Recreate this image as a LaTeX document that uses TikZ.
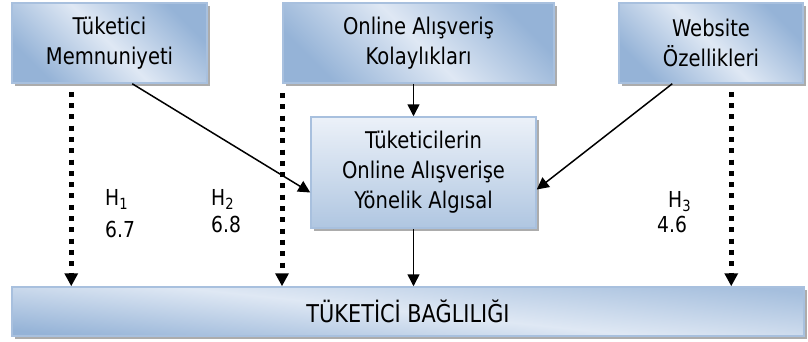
\documentclass[tikz,border=0pt]{standalone}
\usepackage{fontspec}
\setmainfont{DejaVu Sans}[FakeStretch=0.85]
\usetikzlibrary{positioning, calc, arrows.meta, shadows}
\definecolor{boxdark}{HTML}{95B3D7}
\definecolor{boxlight}{HTML}{DFE8F4}
\definecolor{boxedge}{HTML}{A8C0DE}

\begin{document}
\begin{tikzpicture}[x=1pt, y=-1pt,
    every node/.style={font=\fontsize{23}{30}\selectfont, align=center, inner sep=0pt},
    boxshadow/.style={drop shadow={shadow xshift=3pt, shadow yshift=-3pt, fill=gray!65, opacity=1}},
    topbox/.style={boxshadow, draw=boxedge, line width=1.5pt, top color=boxdark, bottom color=boxdark, middle color=boxlight, shading angle=-45, minimum height=80pt},
    midbox/.style={boxshadow, draw=boxedge, line width=1.5pt, top color=boxlight!60!white, bottom color=boxdark!75, minimum width=225pt, minimum height=111pt},
    basebox/.style={boxshadow, draw=boxedge, line width=1.5pt, top color=boxdark!85, bottom color=boxdark, middle color=boxlight, shading angle=-6, minimum width=792pt, minimum height=49pt, font=\fontsize{24.5}{30}\selectfont},
    lbl/.style={font=\fontsize{22}{26}\selectfont, anchor=base west},
    solidarrow/.style={line width=1.5pt, -{Triangle[length=12pt,width=12pt]}},
    dotarrow/.style={line width=5pt, dash pattern=on 5pt off 6.3pt, -{Triangle[length=13pt,width=13pt]}}]
    \useasboundingbox (0,0) rectangle (808,341);
    \node[topbox, minimum width=195pt] (kons)  at (109.5,43) {Tüketici\\Memnuniyeti};
    \node[topbox, minimum width=271pt] (kolay) at (418.5,43) {Online Alışveriş\\Kolaylıkları};
    \node[topbox, minimum width=184pt] (web)   at (711,43)   {Website\\Özellikleri};
    \node[midbox] (alg) at (423.5,172.5) {Tüketicilerin\\Online Alışverişe\\Yönelik Algısal};
    \node[basebox] (bag) at (408,311.5) {TÜKETİCİ BAĞLILIĞI};
    % hypotheses
    \node[lbl] (h1) at (105,205) {H\textsubscript{1}};
    \node[lbl] (v1) at (105,237) {6.7};
    \node[lbl] (h2) at (211,205) {H\textsubscript{2}};
    \node[lbl] (v2) at (211,232) {6.8};
    \node[lbl] (h3) at (668,207) {H\textsubscript{3}};
    \node[lbl] (v3) at (657,232) {4.6};
    % connectors
    \coordinate (d1) at ([xshift=60pt,yshift=-8pt]kons.south west);
    \coordinate (d2) at (282,93);
    \coordinate (d3) at ([xshift=113pt,yshift=-8pt]web.south west);
    \coordinate (a3) at ([xshift=-10pt]alg.south);
    \draw[dotarrow] (d1) -- (d1 |- bag.north);
    \draw[dotarrow] (d2) -- (d2 |- bag.north);
    \draw[dotarrow] (d3) -- (d3 |- bag.north);
    \draw[solidarrow] ([xshift=121pt]kons.south west) -- ([yshift=-20pt]alg.west);
    \draw[solidarrow] ([xshift=54pt]web.south west) -- ([yshift=-17pt]alg.east);
    \draw[solidarrow] ([xshift=-5pt]kolay.south) -- ([xshift=-10pt]alg.north);
    \draw[solidarrow] (a3) -- (a3 |- bag.north);
\end{tikzpicture}
\end{document}
